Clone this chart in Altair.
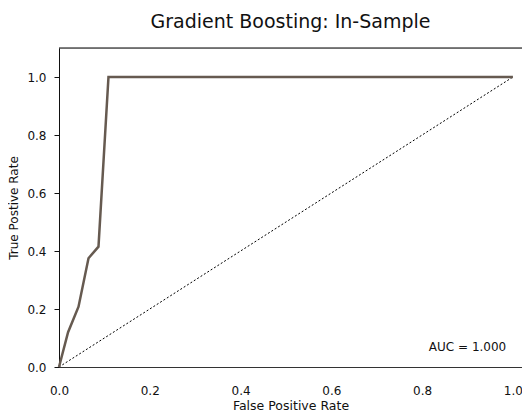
import altair as alt
import pandas as pd

fpr = [0.0, 0.02, 0.043, 0.065, 0.087, 0.109, 1.0]
tpr = [0.0, 0.12, 0.208, 0.375, 0.415, 1.0, 1.0]
diag_x = [0.0, 1.0]
diag_y = [0.0, 1.0]
auc_label = "AUC = 1.000"
title = "Gradient Boosting: In-Sample"

FONT = "DejaVu Sans"

roc = pd.DataFrame({"fpr": fpr, "tpr": tpr, "order": list(range(len(fpr)))})
diag = pd.DataFrame({"fpr": diag_x, "tpr": diag_y})

xs = alt.Scale(domain=[0, 1.02], nice=False, zero=False)
ys = alt.Scale(domain=[0, 1.1], nice=False)

xaxis = alt.Axis(title="False Positive Rate", values=[0, 0.2, 0.4, 0.6, 0.8, 1.0], format=".1f",
                 ticks=False, grid=False, labelPadding=18, titlePadding=3, labelFlush=False,
                 domainColor="#333333", labelColor="#111111", titleColor="#111111",
                 labelFont=FONT, titleFont=FONT, labelFontSize=12, titleFontSize=12.5,
                 titleFontWeight="normal")
yaxis = alt.Axis(title="True Postive Rate", values=[0, 0.2, 0.4, 0.6, 0.8, 1.0], format=".1f",
                 ticks=True, tickSize=5, tickColor="#111111", grid=False, labelPadding=8,
                 labelFlush=False,
                 domainColor="#111111", labelColor="#111111", titleColor="#111111",
                 labelFont=FONT, titleFont=FONT, labelFontSize=12, titleFontSize=12,
                 titleFontWeight="normal", titlePadding=6)

diag_line = alt.Chart(diag).mark_line(color="black", strokeWidth=1, strokeDash=[2, 2]).encode(
    x=alt.X("fpr:Q", scale=xs, axis=xaxis),
    y=alt.Y("tpr:Q", scale=ys, axis=yaxis),
)

roc_line = alt.Chart(roc).mark_line(color="#665a50", strokeWidth=2.5).encode(
    x=alt.X("fpr:Q", scale=xs),
    y=alt.Y("tpr:Q", scale=ys),
    order="order:Q",
)

top_rule = alt.Chart(pd.DataFrame({"y": [1.1]})).mark_rule(color="black", strokeWidth=1).encode(
    y=alt.Y("y:Q", scale=ys)
)

auc_text = alt.Chart(pd.DataFrame({"x": [0.9], "y": [0.069], "t": [auc_label]})).mark_text(
    font=FONT, fontSize=12, color="#111111", align="center", baseline="middle"
).encode(x=alt.X("x:Q", scale=xs), y=alt.Y("y:Q", scale=ys), text="t:N")

chart = alt.layer(diag_line, roc_line, top_rule, auc_text).properties(
    width=463, height=319,
    title=alt.TitleParams(title, font=FONT, fontSize=19, fontWeight="normal", color="#111111",
                          anchor="middle", offset=16),
    autosize=alt.AutoSizeParams(type="none"),
    padding={"left": 51, "top": 40, "right": 0, "bottom": 45},
).configure_view(stroke=None).configure(background="white")

chart.save("out.html", embed_options={"renderer": "svg", "actions": False})
